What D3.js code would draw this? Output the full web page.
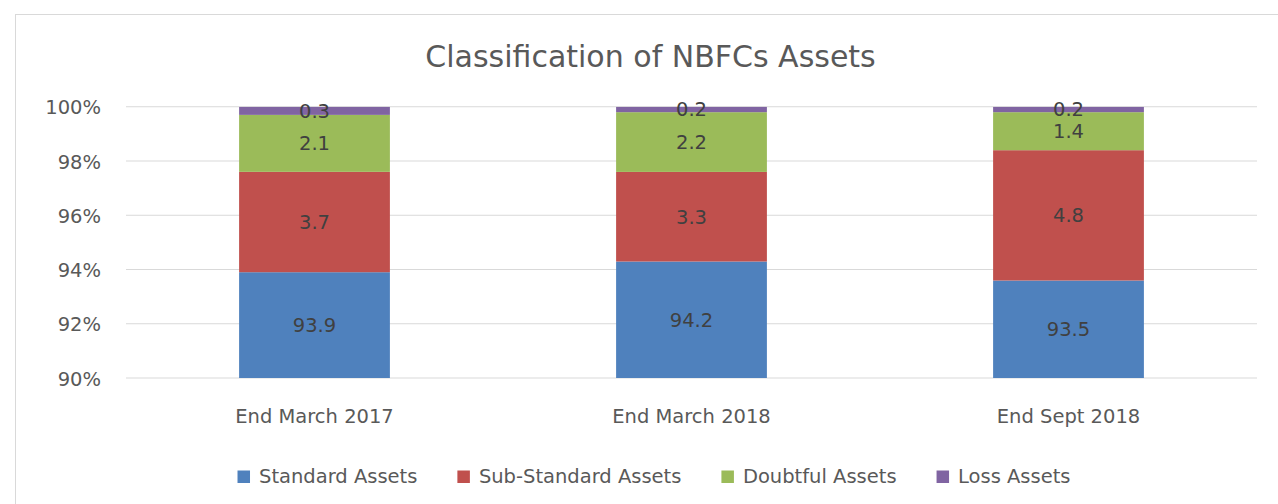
<!DOCTYPE html>
<html>
<head>
<meta charset="utf-8">
<script src="https://cdn.jsdelivr.net/npm/d3@7"></script>
<style>
  html, body { margin: 0; padding: 0; background: #ffffff; }
  svg { display: block; }
  text { font-family: "DejaVu Sans", sans-serif; }
</style>
</head>
<body>
<svg id="chart" width="1278" height="504"></svg>
<script>
// ---- Data ----
const categories = ["End March 2017", "End March 2018", "End Sept 2018"];
const seriesNames = ["Standard Assets", "Sub-Standard Assets", "Doubtful Assets", "Loss Assets"];
const standardAssets = [93.9, 94.2, 93.5];
const subStandardAssets = [3.7, 3.3, 4.8];
const doubtfulAssets = [2.1, 2.2, 1.4];
const lossAssets = [0.3, 0.2, 0.2];
const yTicks = [90, 92, 94, 96, 98, 100];
const titleText = "Classification of NBFCs Assets";

// ---- Styles ----
const colors = ["#4F81BD", "#C0504D", "#9BBB59", "#8064A2"];
const W = 1278, H = 504;
const plot = { left: 126, right: 1257, top: 106.75, bottom: 378 };

const svg = d3.select("#chart");

// chart frame (partially cropped in the original)
svg.append("rect")
  .attr("x", 15.5).attr("y", 14.5)
  .attr("width", 1300).attr("height", 520)
  .attr("fill", "#ffffff")
  .attr("stroke", "#D9D9D9").attr("stroke-width", 1);

// table for stack
const table = categories.map((c, i) => ({
  category: c,
  "Standard Assets": standardAssets[i],
  "Sub-Standard Assets": subStandardAssets[i],
  "Doubtful Assets": doubtfulAssets[i],
  "Loss Assets": lossAssets[i]
}));

const stack = d3.stack().keys(seriesNames).offset(d3.stackOffsetExpand);
const stacked = stack(table);

const x = d3.scaleBand().domain(categories)
  .range([plot.left, plot.right]).paddingInner(0.6).paddingOuter(0.3);
const y = d3.scaleLinear().domain([90, 100]).range([plot.bottom, plot.top]);

// gridlines
svg.append("g").selectAll("line").data(yTicks).join("line")
  .attr("x1", plot.left).attr("x2", plot.right)
  .attr("y1", d => y(d)).attr("y2", d => y(d))
  .attr("stroke", "#D9D9D9").attr("stroke-width", 1.2);

// y axis
const yAxis = d3.axisLeft(y).tickValues(yTicks).tickFormat(d => d + "%").tickSize(0).tickPadding(0);
const gy = svg.append("g").attr("transform", `translate(${plot.left - 25},0)`).call(yAxis);
gy.select(".domain").remove();
gy.selectAll("text")
  .attr("font-family", "DejaVu Sans")
  .attr("font-size", 19.5)
  .attr("fill", "#595959")
  .attr("dy", "0.36em");

// x axis
const xAxis = d3.axisBottom(x).tickSize(0).tickPadding(0);
const gx = svg.append("g").attr("transform", `translate(0,${plot.bottom})`).call(xAxis);
gx.select(".domain").remove();
gx.selectAll("text")
  .attr("font-family", "DejaVu Sans")
  .attr("font-size", 19.5)
  .attr("fill", "#595959")
  .attr("y", 44.5).attr("dy", 0);

// clip for plot area
svg.append("clipPath").attr("id", "plotclip")
  .append("rect").attr("x", plot.left).attr("y", plot.top)
  .attr("width", plot.right - plot.left).attr("height", plot.bottom - plot.top);

const rawSeries = [standardAssets, subStandardAssets, doubtfulAssets, lossAssets];

const layers = svg.append("g").attr("clip-path", "url(#plotclip)");
stacked.forEach((layer, si) => {
  layers.append("g").attr("fill", colors[si])
    .selectAll("rect").data(layer).join("rect")
    .attr("x", d => x(d.data.category))
    .attr("width", x.bandwidth())
    .attr("y", d => y(d[1] * 100))
    .attr("height", d => y(d[0] * 100) - y(d[1] * 100));
});

// data labels (centered in visible portion)
const labels = svg.append("g");
stacked.forEach((layer, si) => {
  labels.append("g").selectAll("text").data(layer).join("text")
    .attr("x", d => x(d.data.category) + x.bandwidth() / 2)
    .attr("y", d => {
      const lo = Math.max(90, d[0] * 100), hi = Math.min(100, d[1] * 100);
      return (y(lo) + y(hi)) / 2;
    })
    .attr("dy", "0.36em")
    .attr("text-anchor", "middle")
    .attr("font-size", 19.5)
    .attr("fill", "#404040")
    .text((d, i) => rawSeries[si][i].toFixed(1));
});

// title
svg.append("text")
  .attr("x", 650.5).attr("y", 67)
  .attr("text-anchor", "middle")
  .attr("font-size", 30)
  .attr("fill", "#595959")
  .text(titleText);

// legend
const legend = svg.append("g");
const sq = 12.5, sqGap = 9, itemGap = 40, legendY = 483, legendCenter = 654;
const items = legend.selectAll("g").data(seriesNames).join("g");
items.append("rect")
  .attr("width", sq).attr("height", sq)
  .attr("y", legendY - sq)
  .attr("fill", (d, i) => colors[i]);
items.append("text")
  .attr("x", sq + sqGap).attr("y", legendY)
  .attr("font-size", 19.5)
  .attr("fill", "#595959")
  .text(d => d);
const widths = [];
items.each(function () {
  widths.push(sq + sqGap + d3.select(this).select("text").node().getComputedTextLength());
});
const total = d3.sum(widths) + itemGap * (widths.length - 1);
let cx = legendCenter - total / 2;
items.each(function (d, i) {
  d3.select(this).attr("transform", `translate(${cx},0)`);
  cx += widths[i] + itemGap;
});
</script>
</body>
</html>
